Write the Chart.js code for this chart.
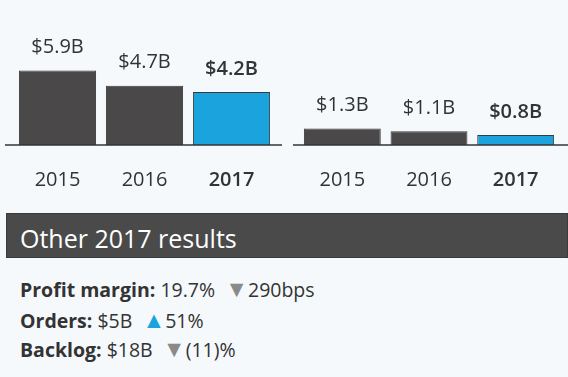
<!DOCTYPE html>
<html>
<head>
<meta charset="utf-8">
<script src="https://cdn.jsdelivr.net/npm/chart.js@4.4.1/dist/chart.umd.min.js"></script>
<style>
  html, body { margin: 0; padding: 0; }
  body {
    width: 568px; height: 377px; position: relative; overflow: hidden;
    background: #f5f9fc; font-family: "Open Sans", sans-serif; color: #333;
  }
  .panel { position: absolute; top: 0; width: 284px; height: 200px; }
  #leftWrap { left: 0; }
  #rightWrap { left: 284px; }
  .banner {
    position: absolute; left: 6px; top: 213px; width: 562px; height: 45px;
    background: #4a4a4a; border: 1px solid #3a3a3a; color: #fff; box-sizing: border-box;
    font-size: 25px; line-height: 48px; padding-left: 13px;
  }
  .line { position: absolute; left: 20px; font-size: 19.5px; line-height: 26px; white-space: nowrap; color: #333; }
  .line b { font-weight: 700; }
  .down { color: #8a8a8a; font-size: 23px; line-height: 20px; }
  .up { color: #1ba3dd; font-size: 23px; line-height: 20px; }
</style>
</head>
<body>
<div class="panel" id="leftWrap"><canvas id="left" width="284" height="200"></canvas></div>
<div class="panel" id="rightWrap"><canvas id="right" width="284" height="200"></canvas></div>
<div class="banner">Other 2017 results</div>
<div class="line" style="top:277px"><b>Profit margin:</b> 19.7% &nbsp;<span class="down">▼</span>290bps</div>
<div class="line" style="top:308px"><b>Orders:</b> $5B &nbsp;<span class="up">▲</span>51%</div>
<div class="line" style="top:337px"><b>Backlog:</b> $18B &nbsp;<span class="down">▼</span>(11)%</div>
<script>
// data
const years = ['2015', '2016', '2017'];
const leftValues = [5.9, 4.7, 4.2];
const rightValues = [1.3, 1.1, 0.8];
const leftLabels = ['$5.9B', '$4.7B', '$4.2B'];
const rightLabels = ['$1.3B', '$1.1B', '$0.8B'];

const dark = '#4a4848';
const blue = '#1ba3dd';
const barColors = [dark, dark, blue];

// value labels above the bars
const valueLabels = {
  id: 'valueLabels',
  afterDatasetsDraw(chart, args, opts) {
    const ctx = chart.ctx;
    const meta = chart.getDatasetMeta(0);
    ctx.save();
    ctx.textAlign = 'center';
    ctx.textBaseline = 'middle';
    ctx.fillStyle = '#333';
    meta.data.forEach((bar, i) => {
      ctx.font = (i === 2 ? '600 ' : '') + '20px "Open Sans"';
      ctx.fillText(opts.labels[i], bar.x, bar.y - 23);
    });
    ctx.restore();
  }
};

// baseline running past the plot area
const baseline = {
  id: 'baseline',
  afterDatasetsDraw(chart, args, opts) {
    const y = chart.scales.y.getPixelForValue(0);
    const ctx = chart.ctx;
    ctx.save();
    ctx.strokeStyle = '#333';
    ctx.lineWidth = 1.5;
    ctx.beginPath();
    ctx.moveTo(opts.from, y);
    ctx.lineTo(opts.to, y);
    ctx.stroke();
    ctx.restore();
  }
};

function makeChart(id, values, labels, pad, line) {
  new Chart(document.getElementById(id), {
    type: 'bar',
    data: {
      labels: years,
      datasets: [{
        data: values,
        backgroundColor: barColors,
        borderColor: '#3a3a3a',
        borderWidth: 1,
        barPercentage: 0.887,
        categoryPercentage: 1
      }]
    },
    options: {
      responsive: false,
      animation: false,
      layout: { padding: { left: pad.left, right: pad.right, top: 0, bottom: 10 } },
      plugins: {
        legend: { display: false },
        tooltip: { enabled: false },
        valueLabels: { labels: labels },
        baseline: line
      },
      scales: {
        x: {
          grid: { display: false, drawTicks: false },
          border: { display: false },
          afterFit: scale => { scale.height = 45; },
          ticks: {
            color: '#333',
            padding: 23,
            maxRotation: 0,
            font: ctx => ({ family: 'Open Sans', size: 20, weight: ctx.index === 2 ? '600' : 'normal' })
          }
        },
        y: { display: false, min: 0, max: 11.5 }
      }
    },
    plugins: [valueLabels, baseline]
  });
}

makeChart('left', leftValues, leftLabels, { left: 14, right: 9 }, { from: 5, to: 282 });
makeChart('right', rightValues, rightLabels, { left: 15, right: 9 }, { from: 9, to: 284 });
</script>
</body>
</html>
